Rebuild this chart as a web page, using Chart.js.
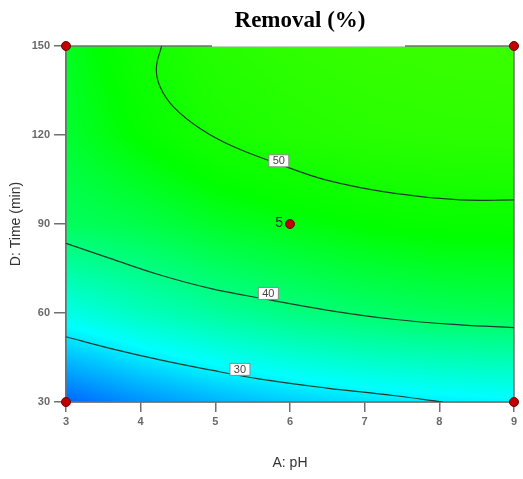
<!DOCTYPE html>
<html>
<head>
<meta charset="utf-8">
<script src="https://cdn.jsdelivr.net/npm/chart.js@4.4.0/dist/chart.umd.min.js"></script>
<style>
  html, body { margin: 0; padding: 0; background: #fff; }
</style>
</head>
<body>
<canvas id="contourChart" width="523" height="479"></canvas>
<script>
// factor levels (A: pH, D: Time)
const phLevels = [3, 4, 5, 6, 7, 8, 9];
const timeLevels = [30, 60, 90, 120, 150];

// removal (%), one row per time level
const removalGrid = [
    [22.0, 24.5, 26.5, 28.0, 29.2, 30.0, 30.5],   // 30 min
    [32.5, 35.0, 37.1, 38.9, 40.3, 41.3, 41.8],   // 60 min
    [41.2, 42.4, 44.5, 45.9, 47.2, 47.9, 48.1],   // 90 min
    [44.0, 47.5, 50.5, 52.0, 53.0, 53.5, 53.7],   // 120 min
    [45.0, 49.5, 52.5, 54.0, 55.0, 55.5, 55.7]    // 150 min
];

// contour lines
const contourLevels = [30, 40, 50];
const contour30PH = [3, 3.59, 4.26, 4.93, 5.6, 6.49, 7.38, 8.05];
const contour30Time = [52.0, 48.1, 44.2, 40.8, 37.7, 34.7, 32.2, 30];
const contour40PH = [3, 3.59, 4.26, 4.93, 5.69, 6.49, 7.38, 8.28, 9];
const contour40Time = [83.5, 78.4, 72.8, 68.3, 64.6, 61.0, 57.9, 56.0, 55.1];
const contour50PH = [4.28, 4.21, 4.26, 4.44, 4.79, 5.24, 5.82, 6.49, 7.38, 8.28, 9];
const contour50Time = [150, 142.5, 136.3, 129.5, 122.3, 116.1, 110.5, 104.8, 100.4, 98.1, 98.1];

// where the contour value boxes sit
const labelPH = [5.33, 5.71, 5.85];
const labelTime = [41.0, 66.6, 111.3];

// design points
const designPH = [3, 3, 9, 9, 6];
const designTime = [30, 150, 30, 150, 90];
const centerRuns = '5';

const xyPoints = (xs, ys) => xs.map((x, i) => ({ x: x, y: ys[i] }));

// blue -> cyan -> green -> yellow colour ramp
const rampStops = [
    { v: 16, c: [0, 0, 255] },
    { v: 31, c: [0, 255, 255] },
    { v: 47, c: [0, 255, 0] },
    { v: 85, c: [255, 255, 0] }
];

function rampColor(v) {
    if (v <= rampStops[0].v) return rampStops[0].c;
    for (let i = 1; i < rampStops.length; i++) {
        const a = rampStops[i - 1], b = rampStops[i];
        if (v <= b.v) {
            const f = (v - a.v) / (b.v - a.v);
            return [0, 1, 2].map(k => a.c[k] + (b.c[k] - a.c[k]) * f);
        }
    }
    return rampStops[rampStops.length - 1].c;
}

function gridValue(ph, t) {
    const fi = Math.min(Math.max((ph - phLevels[0]) / (phLevels[1] - phLevels[0]), 0), phLevels.length - 1.0001);
    const fj = Math.min(Math.max((t - timeLevels[0]) / (timeLevels[1] - timeLevels[0]), 0), timeLevels.length - 1.0001);
    const i = Math.floor(fi), j = Math.floor(fj);
    const u = fi - i, w = fj - j;
    const r0 = removalGrid[j], r1 = removalGrid[j + 1];
    return (r0[i] * (1 - u) + r0[i + 1] * u) * (1 - w) + (r1[i] * (1 - u) + r1[i + 1] * u) * w;
}

const responseField = {
    id: 'responseField',
    beforeDatasetsDraw(chart) {
        const { ctx, chartArea: ca, scales: { x, y } } = chart;
        const w = Math.round(ca.right - ca.left), h = Math.round(ca.bottom - ca.top);
        const off = document.createElement('canvas');
        off.width = w; off.height = h;
        const octx = off.getContext('2d');
        const img = octx.createImageData(w, h);
        for (let py = 0; py < h; py++) {
            const t = y.getValueForPixel(ca.top + py + 0.5);
            for (let px = 0; px < w; px++) {
                const ph = x.getValueForPixel(ca.left + px + 0.5);
                const c = rampColor(gridValue(ph, t));
                const k = (py * w + px) * 4;
                img.data[k] = c[0]; img.data[k + 1] = c[1]; img.data[k + 2] = c[2]; img.data[k + 3] = 255;
            }
        }
        octx.putImageData(img, 0, 0);
        ctx.drawImage(off, ca.left, ca.top);
        ctx.save();
        ctx.strokeStyle = '#707070';
        ctx.lineWidth = 1.5;
        ctx.strokeRect(ca.left, ca.top, ca.right - ca.left, ca.bottom - ca.top);
        // the title's white backing hides part of the top border
        ctx.fillStyle = '#ffffff';
        ctx.fillRect(212, ca.top - 2, 193, 2.6);
        ctx.restore();
    },
    afterDraw(chart) {
        const { ctx, scales: { x, y } } = chart;
        ctx.save();
        // contour value boxes
        ctx.font = '11px "Liberation Sans", Arial, sans-serif';
        ctx.textAlign = 'center';
        ctx.textBaseline = 'middle';
        contourLevels.forEach((lev, i) => {
            const cx = x.getPixelForValue(labelPH[i]);
            const cy = y.getPixelForValue(labelTime[i]);
            ctx.fillStyle = '#ffffff';
            ctx.fillRect(cx - 10, cy - 6, 20, 12);
            ctx.strokeStyle = '#8a8a8a';
            ctx.lineWidth = 1;
            ctx.strokeRect(cx - 10, cy - 6, 20, 12);
            ctx.fillStyle = '#444';
            ctx.fillText(String(lev), cx, cy + 0.5);
        });
        // center point replicate count
        ctx.font = '14px "Liberation Sans", Arial, sans-serif';
        ctx.textAlign = 'right';
        ctx.fillStyle = '#333';
        ctx.fillText(centerRuns, x.getPixelForValue(designPH[4]) - 7, y.getPixelForValue(designTime[4]) - 1);
        // title
        ctx.font = 'bold 23px "Liberation Serif", "Times New Roman", serif';
        ctx.textAlign = 'center';
        ctx.fillStyle = '#000';
        ctx.fillText('Removal (%)', 300, 21);
        ctx.restore();
    }
};

const axisFont = { family: 'Liberation Sans', size: 11, weight: 'bold' };
const titleFont = { family: 'Liberation Sans', size: 14 };

const contourStyle = {
    showLine: true,
    pointRadius: 0,
    borderColor: '#1e3a2c',
    borderWidth: 1.2,
    tension: 0.4,
    fill: false
};

new Chart(document.getElementById('contourChart').getContext('2d'), {
    type: 'scatter',
    data: {
        datasets: [
            Object.assign({ label: '30', data: xyPoints(contour30PH, contour30Time) }, contourStyle),
            Object.assign({ label: '40', data: xyPoints(contour40PH, contour40Time) }, contourStyle),
            Object.assign({ label: '50', data: xyPoints(contour50PH, contour50Time) }, contourStyle),
            {
                label: 'Design points',
                data: xyPoints(designPH, designTime),
                pointRadius: 4.5,
                backgroundColor: '#c00000',
                borderColor: '#700000',
                borderWidth: 1,
                clip: false
            }
        ]
    },
    options: {
        responsive: false,
        animation: false,
        layout: { padding: { top: 46, right: 9, left: 0, bottom: 0 } },
        plugins: {
            legend: { display: false },
            tooltip: { enabled: false }
        },
        scales: {
            x: {
                type: 'linear',
                min: 3,
                max: 9,
                afterFit: s => { s.height = 77; },
                ticks: { stepSize: 1, font: axisFont, color: '#6a6a6a', padding: 3 },
                grid: { drawOnChartArea: false, tickLength: 10, color: '#707070', lineWidth: 1.5 },
                border: { display: true, color: '#707070', width: 1.5 },
                title: { display: true, text: 'A: pH', font: titleFont, color: '#333', padding: { top: 0, bottom: 7 } }
            },
            y: {
                type: 'linear',
                min: 30,
                max: 150,
                afterFit: s => { s.width = 66; },
                ticks: { stepSize: 30, font: axisFont, color: '#6a6a6a', padding: 4 },
                grid: { drawOnChartArea: false, tickLength: 12, color: '#707070', lineWidth: 1.5 },
                border: { display: true, color: '#707070', width: 1.5 },
                title: { display: true, text: 'D: Time (min)', font: titleFont, color: '#333', padding: { top: 8, bottom: 0 } }
            }
        }
    },
    plugins: [responseField]
});
</script>
</body>
</html>
